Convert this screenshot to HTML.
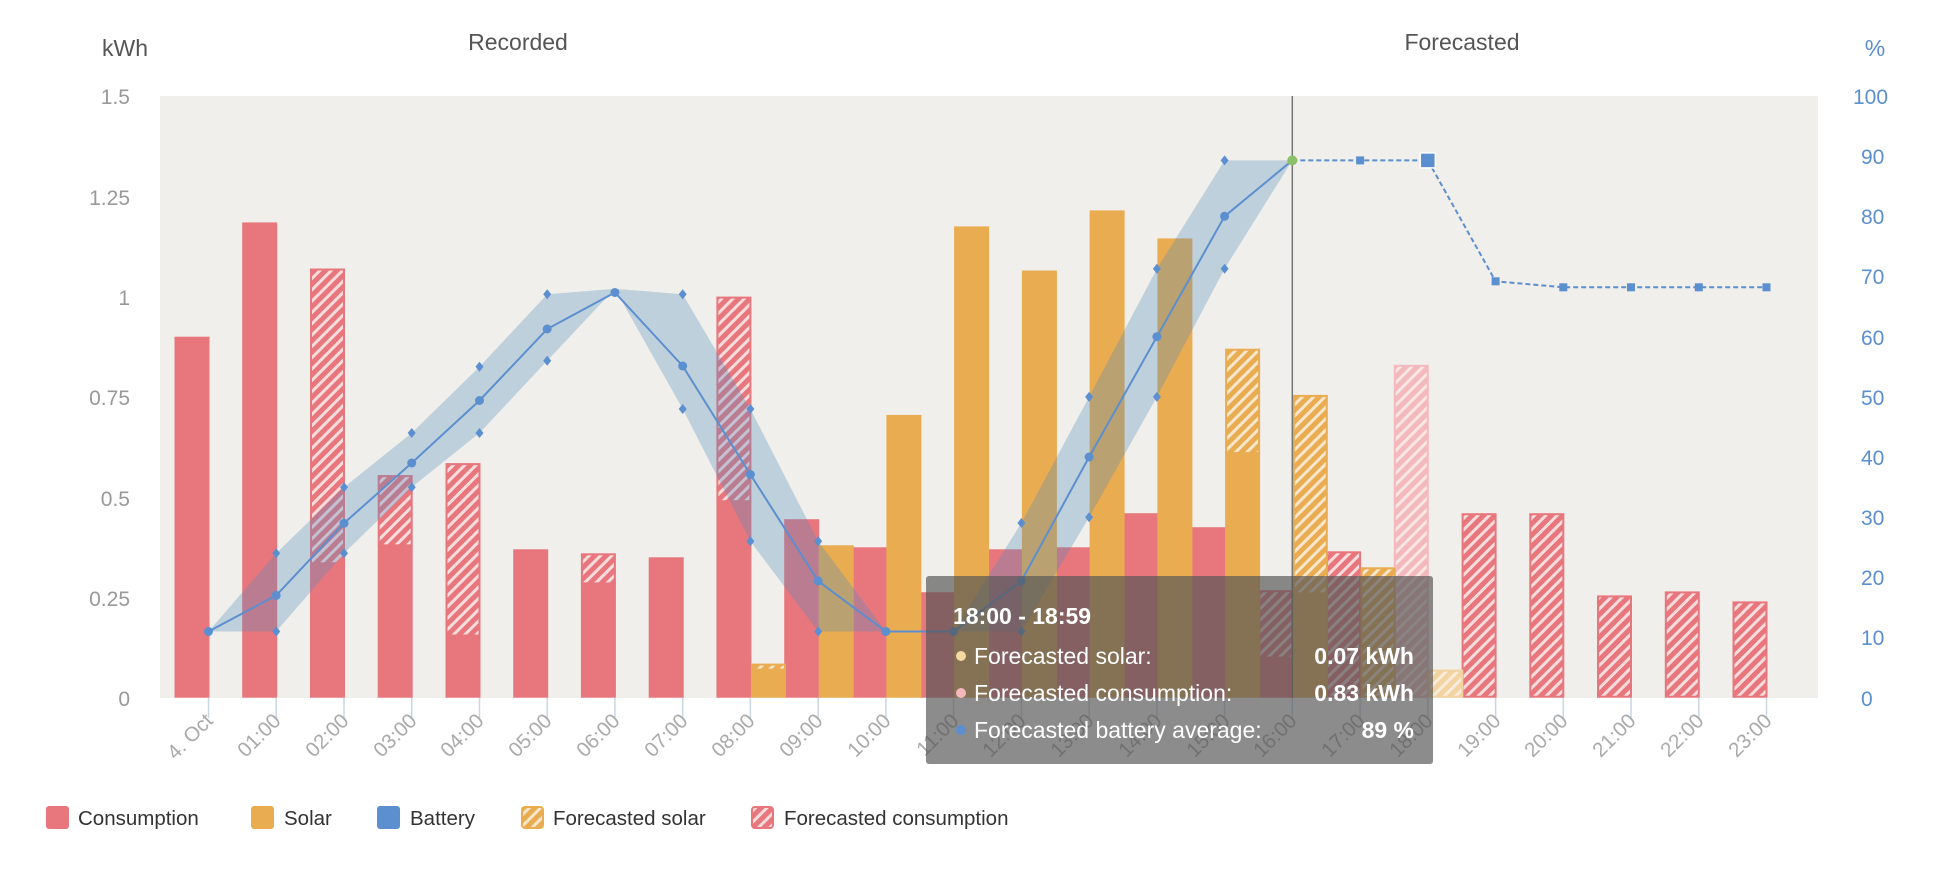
<!DOCTYPE html>
<html><head><meta charset="utf-8"><style>
html,body{margin:0;padding:0;background:#fff;}
svg{display:block;font-family:"Liberation Sans",sans-serif;}
</style></head><body>
<svg width="1946" height="886" viewBox="0 0 1946 886" xmlns="http://www.w3.org/2000/svg">
<defs>
<pattern id="hr" patternUnits="userSpaceOnUse" width="8" height="8" patternTransform="rotate(45)">
<rect width="8" height="8" fill="#e8777d"/><rect width="3" height="8" fill="#f6dcdc"/></pattern>
<pattern id="hs" patternUnits="userSpaceOnUse" width="8" height="8" patternTransform="rotate(45)">
<rect width="8" height="8" fill="#e9ac51"/><rect width="3" height="8" fill="#f7e6cc"/></pattern>
<pattern id="hrl" patternUnits="userSpaceOnUse" width="8" height="8" patternTransform="rotate(45)">
<rect width="8" height="8" fill="#f3b9bc"/><rect width="3" height="8" fill="#f8e6e4"/></pattern>
<pattern id="hsl" patternUnits="userSpaceOnUse" width="8" height="8" patternTransform="rotate(45)">
<rect width="8" height="8" fill="#f3d3a0"/><rect width="3" height="8" fill="#f7ecdc"/></pattern>
</defs>
<rect x="160" y="96" width="1658" height="602" fill="#f0efeb"/>
<g fill="#555" font-size="23">
<text x="125" y="56" text-anchor="middle">kWh</text>
<text x="518" y="50" text-anchor="middle">Recorded</text>
<text x="1462" y="50" text-anchor="middle">Forecasted</text>
<text x="1875" y="56" text-anchor="middle" fill="#5b8fcf">%</text>
</g>
<g fill="#999" font-size="21" text-anchor="end">
<text x="130" y="104">1.5</text><text x="130" y="205">1.25</text><text x="130" y="305">1</text>
<text x="130" y="405">0.75</text><text x="130" y="506">0.5</text><text x="130" y="606">0.25</text><text x="130" y="706">0</text>
</g>
<g fill="#5b8fcf" font-size="21">
<text x="1853" y="104">100</text><text x="1861" y="164">90</text><text x="1861" y="224">80</text>
<text x="1861" y="284">70</text><text x="1861" y="345">60</text><text x="1861" y="405">50</text>
<text x="1861" y="465">40</text><text x="1861" y="525">30</text><text x="1861" y="585">20</text>
<text x="1861" y="645">10</text><text x="1861" y="706">0</text>
</g>
<g stroke="#c8d6e6" stroke-width="1.5">
<line x1="208.5" y1="698" x2="208.5" y2="718"/><line x1="276.2" y1="698" x2="276.2" y2="718"/><line x1="344" y1="698" x2="344" y2="718"/><line x1="411.7" y1="698" x2="411.7" y2="718"/><line x1="479.5" y1="698" x2="479.5" y2="718"/><line x1="547.2" y1="698" x2="547.2" y2="718"/><line x1="614.9" y1="698" x2="614.9" y2="718"/><line x1="682.7" y1="698" x2="682.7" y2="718"/><line x1="750.4" y1="698" x2="750.4" y2="718"/><line x1="818.2" y1="698" x2="818.2" y2="718"/><line x1="885.9" y1="698" x2="885.9" y2="718"/><line x1="953.6" y1="698" x2="953.6" y2="718"/><line x1="1021.4" y1="698" x2="1021.4" y2="718"/><line x1="1089.1" y1="698" x2="1089.1" y2="718"/><line x1="1156.9" y1="698" x2="1156.9" y2="718"/><line x1="1224.6" y1="698" x2="1224.6" y2="718"/><line x1="1292.3" y1="698" x2="1292.3" y2="718"/><line x1="1360.1" y1="698" x2="1360.1" y2="718"/><line x1="1427.8" y1="698" x2="1427.8" y2="718"/><line x1="1495.6" y1="698" x2="1495.6" y2="718"/><line x1="1563.3" y1="698" x2="1563.3" y2="718"/><line x1="1631" y1="698" x2="1631" y2="718"/><line x1="1698.8" y1="698" x2="1698.8" y2="718"/><line x1="1766.5" y1="698" x2="1766.5" y2="718"/>
</g>
<g fill="#aaa" font-size="20.5" text-anchor="end">
<text transform="translate(214,722) rotate(-45)">4. Oct</text>
<text transform="translate(282,722) rotate(-45)">01:00</text>
<text transform="translate(350,722) rotate(-45)">02:00</text>
<text transform="translate(418,722) rotate(-45)">03:00</text>
<text transform="translate(485,722) rotate(-45)">04:00</text>
<text transform="translate(553,722) rotate(-45)">05:00</text>
<text transform="translate(621,722) rotate(-45)">06:00</text>
<text transform="translate(689,722) rotate(-45)">07:00</text>
<text transform="translate(756,722) rotate(-45)">08:00</text>
<text transform="translate(824,722) rotate(-45)">09:00</text>
<text transform="translate(892,722) rotate(-45)">10:00</text>
<text transform="translate(960,722) rotate(-45)">11:00</text>
<text transform="translate(1027,722) rotate(-45)">12:00</text>
<text transform="translate(1095,722) rotate(-45)">13:00</text>
<text transform="translate(1163,722) rotate(-45)">14:00</text>
<text transform="translate(1231,722) rotate(-45)">15:00</text>
<text transform="translate(1298,722) rotate(-45)">16:00</text>
<text transform="translate(1366,722) rotate(-45)">17:00</text>
<text transform="translate(1434,722) rotate(-45)">18:00</text>
<text transform="translate(1502,722) rotate(-45)">19:00</text>
<text transform="translate(1569,722) rotate(-45)">20:00</text>
<text transform="translate(1637,722) rotate(-45)">21:00</text>
<text transform="translate(1705,722) rotate(-45)">22:00</text>
<text transform="translate(1773,722) rotate(-45)">23:00</text>
</g>
<g fill="#e8777d">
<rect x="174.5" y="336.7" width="35" height="361"/>
<rect x="242.2" y="222.4" width="35" height="475.3"/>
<rect x="310" y="563.3" width="35" height="134.4"/>
<rect x="377.7" y="545.3" width="35" height="152.4"/>
<rect x="445.5" y="635.5" width="35" height="62.2"/>
<rect x="513.2" y="549.3" width="35" height="148.4"/>
<rect x="580.9" y="583.4" width="35" height="114.3"/>
<rect x="648.7" y="557.3" width="35" height="140.4"/>
<rect x="716.4" y="501.2" width="35" height="196.5"/>
<rect x="784.2" y="519.2" width="35" height="178.5"/>
<rect x="851.9" y="547.3" width="35" height="150.4"/>
<rect x="919.6" y="592.2" width="35" height="105.5"/>
<rect x="987.4" y="549.3" width="35" height="148.4"/>
<rect x="1055.1" y="547.3" width="35" height="150.4"/>
<rect x="1122.9" y="513.2" width="35" height="184.5"/>
<rect x="1190.6" y="527.2" width="35" height="170.5"/>
<rect x="1258.3" y="657.6" width="35" height="40.1"/>
</g>
<g fill="url(#hr)" stroke="#e8777d" stroke-width="2">
<rect x="311" y="269.5" width="33" height="293.8"/>
<rect x="378.7" y="476.1" width="33" height="69.2"/>
<rect x="446.5" y="464.1" width="33" height="171.4"/>
<rect x="581.9" y="554.3" width="33" height="29.1"/>
<rect x="717.4" y="297.6" width="33" height="203.6"/>
<rect x="1259.3" y="591.2" width="33" height="66.4"/>
<rect x="1327.1" y="552.3" width="33" height="144.4"/>
<rect x="1462.6" y="514.2" width="33" height="182.5"/>
<rect x="1530.3" y="514.2" width="33" height="182.5"/>
<rect x="1598" y="596.4" width="33" height="100.3"/>
<rect x="1665.8" y="592.4" width="33" height="104.3"/>
<rect x="1733.5" y="602.4" width="33" height="94.3"/>
</g>
<rect x="1394.8" y="365.8" width="33" height="330.9" fill="url(#hrl)" stroke="#f3b9bc" stroke-width="2"/>
<g fill="#e9ac51">
<rect x="750.9" y="669.6" width="35" height="28.1"/>
<rect x="818.7" y="545.3" width="35" height="152.4"/>
<rect x="886.4" y="414.9" width="35" height="282.8"/>
<rect x="954.1" y="226.4" width="35" height="471.3"/>
<rect x="1021.9" y="270.5" width="35" height="427.2"/>
<rect x="1089.6" y="210.4" width="35" height="487.3"/>
<rect x="1157.4" y="238.4" width="35" height="459.3"/>
<rect x="1225.1" y="453" width="35" height="244.7"/>
<rect x="1292.8" y="593.4" width="35" height="104.3"/>
</g>
<g fill="url(#hs)" stroke="#e9ac51" stroke-width="2">
<rect x="751.9" y="664.6" width="33" height="5"/>
<rect x="1226.1" y="349.7" width="33" height="103.3"/>
<rect x="1293.8" y="395.9" width="33" height="197.5"/>
<rect x="1361.6" y="568.3" width="33" height="128.4"/>
</g>
<rect x="1429.3" y="670.6" width="33" height="26.1" fill="url(#hsl)" stroke="#f3d3a0" stroke-width="2"/>
<line x1="1292.3" y1="96" x2="1292.3" y2="698" stroke="#777" stroke-width="1.5"/>
<polygon fill="rgba(80,135,190,0.3)" points="208.5,631.5 276.2,553.3 344,487.3 411.7,433 479.5,366.7 547.2,294.3 614.9,288.7 682.7,294.3 750.4,409 818.2,541.3 885.9,631.5 953.6,631.5 1021.4,523 1089.1,396.9 1156.9,268.7 1224.6,160.4 1292.3,160.4 1224.6,268.7 1156.9,396.9 1089.1,517.3 1021.4,631.5 953.6,631.5 885.9,631.5 818.2,631.5 750.4,541.3 682.7,409 614.9,288.7 547.2,360.7 479.5,433 411.7,487.3 344,553.3 276.2,631.5 208.5,631.5"/>
<g fill="#5b8fcf">
<path d="M276.2,548.3l4,5l-4,5l-4,-5z M344,482.3l4,5l-4,5l-4,-5z M411.7,428l4,5l-4,5l-4,-5z M479.5,361.7l4,5l-4,5l-4,-5z M547.2,289.3l4,5l-4,5l-4,-5z M682.7,289.3l4,5l-4,5l-4,-5z M750.4,404l4,5l-4,5l-4,-5z M818.2,536.3l4,5l-4,5l-4,-5z M1021.4,518l4,5l-4,5l-4,-5z M1089.1,391.9l4,5l-4,5l-4,-5z M1156.9,263.7l4,5l-4,5l-4,-5z M1224.6,155.4l4,5l-4,5l-4,-5z M276.2,626.5l4,5l-4,5l-4,-5z M344,548.3l4,5l-4,5l-4,-5z M411.7,482.3l4,5l-4,5l-4,-5z M479.5,428l4,5l-4,5l-4,-5z M547.2,355.7l4,5l-4,5l-4,-5z M682.7,404l4,5l-4,5l-4,-5z M750.4,536.3l4,5l-4,5l-4,-5z M818.2,626.5l4,5l-4,5l-4,-5z M1021.4,626.5l4,5l-4,5l-4,-5z M1089.1,512.3l4,5l-4,5l-4,-5z M1156.9,391.9l4,5l-4,5l-4,-5z M1224.6,263.7l4,5l-4,5l-4,-5z"/>
</g>
<polyline fill="none" stroke="#5b8fcf" stroke-width="2" points="208.5,631.5 276.2,595.4 344,523.2 411.7,463 479.5,400.5 547.2,329 614.9,292.5 682.7,366 750.4,474.5 818.2,581 885.9,631.5 953.6,631.5 1021.4,581 1089.1,457 1156.9,336.7 1224.6,216.3 1292.3,160.4"/>
<g fill="#5b8fcf">
<circle cx="208.5" cy="631.5" r="4.5"/><circle cx="276.2" cy="595.4" r="4.5"/><circle cx="344" cy="523.2" r="4.5"/><circle cx="411.7" cy="463" r="4.5"/><circle cx="479.5" cy="400.5" r="4.5"/><circle cx="547.2" cy="329" r="4.5"/><circle cx="614.9" cy="292.5" r="4.5"/><circle cx="682.7" cy="366" r="4.5"/><circle cx="750.4" cy="474.5" r="4.5"/><circle cx="818.2" cy="581" r="4.5"/><circle cx="885.9" cy="631.5" r="4.5"/><circle cx="953.6" cy="631.5" r="4.5"/><circle cx="1021.4" cy="581" r="4.5"/><circle cx="1089.1" cy="457" r="4.5"/><circle cx="1156.9" cy="336.7" r="4.5"/><circle cx="1224.6" cy="216.3" r="4.5"/>
</g>
<polyline fill="none" stroke="#5b8fcf" stroke-width="2" stroke-dasharray="5,3" points="1292.3,160.4 1360.1,160.4 1427.8,160.4 1495.6,281.3 1563.3,287.3 1631,287.3 1698.8,287.3 1766.5,287.3"/>
<g fill="#5b8fcf">
<rect x="1356.1" y="156.4" width="8" height="8"/><rect x="1491.6" y="277.3" width="8" height="8"/><rect x="1559.3" y="283.3" width="8" height="8"/><rect x="1627" y="283.3" width="8" height="8"/><rect x="1694.8" y="283.3" width="8" height="8"/><rect x="1762.5" y="283.3" width="8" height="8"/>
<rect x="1420.3" y="152.9" width="15" height="15" stroke="#fff" stroke-width="1.5"/>
</g>
<circle cx="1292.3" cy="160.4" r="5" fill="#8bc06a"/>
<rect x="926" y="576" width="507" height="188" rx="3" fill="rgba(85,85,85,0.68)"/>
<g fill="#fff" font-size="23">
<text x="953" y="624" font-weight="bold">18:00 - 18:59</text>
<circle cx="961" cy="656" r="5" fill="#f5d9a3"/>
<text x="974" y="664">Forecasted solar:</text>
<text x="1414" y="664" text-anchor="end" font-weight="bold">0.07 kWh</text>
<circle cx="961" cy="693" r="5" fill="#f2b8bb"/>
<text x="974" y="701">Forecasted consumption:</text>
<text x="1414" y="701" text-anchor="end" font-weight="bold">0.83 kWh</text>
<circle cx="961" cy="730" r="5" fill="#5b8fcf"/>
<text x="974" y="738">Forecasted battery average:</text>
<text x="1414" y="738" text-anchor="end" font-weight="bold">89 %</text>
</g>
<g font-size="20.5" fill="#333">
<rect x="46" y="806" width="23" height="23" rx="3" fill="#e8777d"/><text x="78" y="825">Consumption</text>
<rect x="251" y="806" width="23" height="23" rx="3" fill="#e9ac51"/><text x="284" y="825">Solar</text>
<rect x="377" y="806" width="23" height="23" rx="3" fill="#5b8fcf"/><text x="410" y="825">Battery</text>
<rect x="522" y="807" width="21" height="21" rx="3" fill="url(#hs)" stroke="#e9ac51" stroke-width="2"/><text x="553" y="825">Forecasted solar</text>
<rect x="752" y="807" width="21" height="21" rx="3" fill="url(#hr)" stroke="#e8777d" stroke-width="2"/><text x="784" y="825">Forecasted consumption</text>
</g>
</svg>
</body></html>
